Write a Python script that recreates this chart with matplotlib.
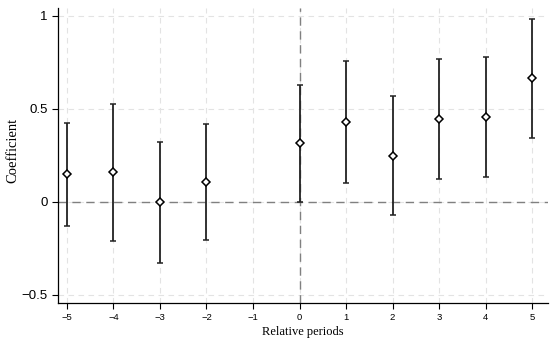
import matplotlib.pyplot as plt

# event-study coefficients and 95% bounds
periods = [-5, -4, -3, -2, 0, 1, 2, 3, 4, 5]
coef = [0.149, 0.158, -0.004, 0.104, 0.314, 0.428, 0.247, 0.445, 0.454, 0.663]
upper = [0.423, 0.527, 0.323, 0.418, 0.626, 0.758, 0.568, 0.765, 0.776, 0.984]
lower = [-0.131, -0.213, -0.330, -0.208, 0.0, 0.099, -0.072, 0.124, 0.131, 0.342]

xticks = [-5, -4, -3, -2, -1, 0, 1, 2, 3, 4, 5]
yticks = [-0.5, 0, 0.5, 1]
ylabels = ['\u22120.5', '0', '0.5', '1']

err_lo = [c - l for c, l in zip(coef, lower)]
err_hi = [u - c for c, u in zip(coef, upper)]

fig = plt.figure(figsize=(5.5, 3.42), dpi=100)
ax = fig.add_axes([58 / 550, 1 - 302.7 / 342, 490 / 550, 294.7 / 342])

# grid
for x in xticks:
    ax.axvline(x, color='#e3e3e3', lw=0.8, ls=(0, (5, 4)), zorder=0)
for y in yticks:
    ax.axhline(y, color='#e3e3e3', lw=0.8, ls=(0, (5, 4)), zorder=0)

ax.axhline(0, color='#808080', lw=1.0, ls=(0, (6, 4)), zorder=1)
ax.axvline(0, color='#808080', lw=1.0, ls=(0, (6, 4)), zorder=1)

ax.errorbar(periods, coef, yerr=[err_lo, err_hi], fmt='D', ms=3.8,
            mfc='white', mec='black', mew=1.1, ecolor='#222222',
            elinewidth=1.3, capsize=2.5, capthick=1.3, color='black', zorder=3)

ax.set_xlim(-5.19, 5.34)
ax.set_ylim(-0.543, 1.041)
ax.set_xticks(xticks)
ax.set_xticklabels([str(x).replace('-', '\u2212') for x in xticks],
                   fontsize=6.8, family='Liberation Sans')
ax.set_yticks(yticks)
ax.set_yticklabels(ylabels, fontsize=9.5, family='Liberation Sans')
ax.tick_params(direction='out', length=4, width=0.8, colors='black')

ax.spines['top'].set_visible(False)
ax.spines['right'].set_visible(False)
ax.spines['left'].set_linewidth(0.9)
ax.spines['bottom'].set_linewidth(0.9)

ax.set_xlabel('Relative periods', family='Liberation Serif', fontsize=9, labelpad=3)
ax.set_ylabel('Coefficient', family='Liberation Serif', fontsize=10.5)
ax.yaxis.set_label_coords(-0.078, 0.516)

fig.savefig('out.png', dpi=100)
